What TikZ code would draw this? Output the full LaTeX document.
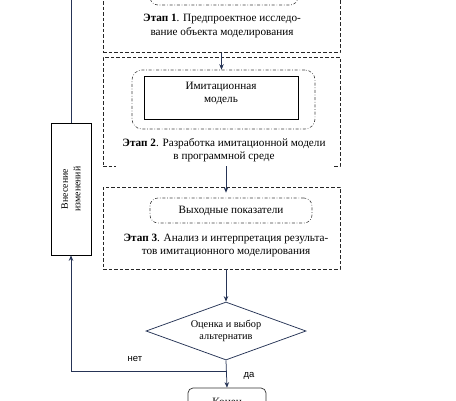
\documentclass[tikz,border=0pt]{standalone}
\usepackage{fontspec}
\setmainfont{Liberation Serif}
\newfontfamily\arialf{Liberation Sans}
\usetikzlibrary{shapes.geometric,arrows.meta,calc}
\definecolor{linec}{RGB}{38,52,86}
\begin{document}
\begin{tikzpicture}[x=1pt,y=-1pt,
 lc/.style={draw=linec, line width=0.75pt},
 arr/.style={lc, -{Stealth[length=5.5pt,width=4.5pt]}},
 stagebox/.style={draw=black!85, dash pattern=on 3.5pt off 2pt, line width=0.6pt, minimum width=237pt, inner sep=0pt},
 ddbox/.style={draw=black!75, rounded corners=8pt, dash pattern=on 3pt off 1.8pt on 0.7pt off 1.8pt, line width=0.6pt, inner sep=0pt},
 txt/.style={font=\fontsize{11.2}{13.6}\selectfont, align=center, inner sep=0pt},
 solidbox/.style={draw=black, line width=0.7pt, inner sep=0pt},
 ]
\useasboundingbox (0,0) rectangle (456,400);
\clip (0,0) rectangle (456,400);
% stage 1
\node[stagebox, minimum height=72pt] (s1) at (221.5,16.5) {};
\node[ddbox, minimum width=148pt, minimum height=30pt] (pre) at (224,-10) {};
\node[txt] (t1) at (222,26) {\textbf{Этап 1}. Предпроектное исследо-\\вание объекта моделирования};
% stage 2
\node[stagebox, minimum height=109pt] (s2) at (221.5,111.5) {};
\fill[white] (116,163) rectangle (333,169);
\node[ddbox, rounded corners=10pt, minimum width=183pt, minimum height=59pt] (mo) at (223.5,99.5) {};
\node[solidbox, minimum width=154pt, minimum height=43pt] (mi) at (221,97.5) {};
\node[txt] (mt) at (221,93.5) {Имитационная\\модель};
\node[txt] (t2) at (224,150) {\textbf{Этап 2}. Разработка имитационной модели\\в программной среде};
% stage 3
\node[stagebox, minimum height=82pt] (s3) at (221.5,228) {};
\node[ddbox, minimum width=162pt, minimum height=25pt, font=\fontsize{11.2}{13.6}\selectfont] (out) at (231,210.5) {Выходные показатели};
\node[txt] (t3) at (226,245.5) {\textbf{Этап 3}. Анализ и интерпретация результа-\\тов имитационного моделирования};
% decision
\node[diamond, draw=linec, line width=0.75pt, minimum width=160pt, minimum height=58pt, inner sep=0pt, aspect=2.76, align=center, font=\fontsize{10.3}{12.5}\selectfont] (dia) at (226,331) {Оценка и выбор\\альтернатив};
% changes box
\node[solidbox, minimum width=40pt, minimum height=132pt] (vn) at (71,189) {};
\node[rotate=90, font=\fontsize{9.8}{12.5}\selectfont, align=center, inner sep=0pt] (vt) at (vn.center) {Внесение\\изменений};
% end
\node[solidbox, draw=black!80, rounded corners=5pt, minimum width=78pt, minimum height=30pt, font=\fontsize{11.2}{13.6}\selectfont] (end) at (227,403) {Конец};
% connectors
\coordinate (ax) at (226,0);
\coordinate (top) at (72,0);
\draw[arr] (s1.south) -- (s1.south |- mo.north);
\draw[arr] (ax |- s2.south) -- ([yshift=-6pt]ax |- s3.north);
\draw[arr] (ax |- s3.south) -- (dia.north);
\draw[arr] (dia.south) -- (end.north);
\coordinate (j) at ($(dia.south)+(0,11)$);
\draw[arr] (j) -| (vn.south);
\draw[lc] (vn.north) -- (vn.north |- top);
\node[font=\arialf\fontsize{9.5}{10}\selectfont, inner sep=0pt] (no) at (135,359) {нет};
\node[font=\arialf\fontsize{9.5}{10}\selectfont, inner sep=0pt] (yes) at (249,376) {да};
\end{tikzpicture}
\end{document}
